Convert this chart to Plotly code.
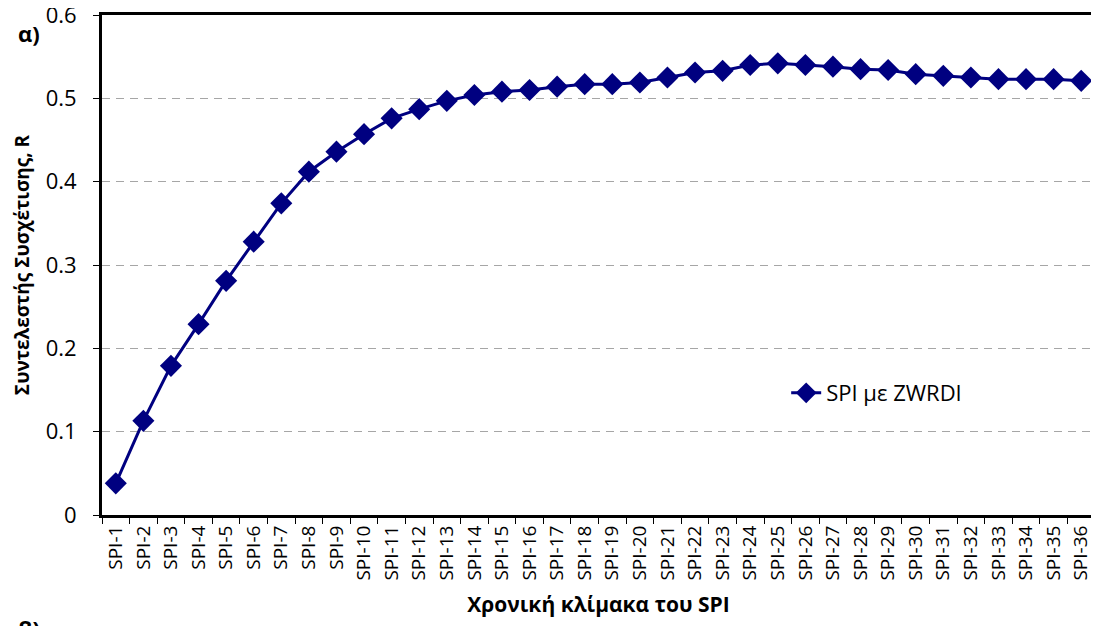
import plotly.graph_objects as go

categories = [f"SPI-{i}" for i in range(1, 37)]
r_values = [0.038, 0.113, 0.179, 0.229, 0.281, 0.328, 0.374, 0.412, 0.436, 0.457,
            0.476, 0.487, 0.497, 0.504, 0.508, 0.510, 0.514, 0.517, 0.517, 0.519,
            0.525, 0.531, 0.533, 0.540, 0.542, 0.540, 0.538, 0.535, 0.534, 0.529,
            0.527, 0.525, 0.523, 0.523, 0.523, 0.521]
y_ticks = [0, 0.1, 0.2, 0.3, 0.4, 0.5, 0.6]
y_tick_text = ["0", "0.1", "0.2", "0.3", "0.4", "0.5", "0.6"]

FONT = "Open Sans"

fig = go.Figure()
fig.add_trace(go.Scatter(
    x=categories, y=r_values, mode="lines+markers", name="SPI με ZWRDI",
    line=dict(color="#000080", width=3),
    marker=dict(symbol="diamond", size=17, color="#000080"),
))

fig.update_layout(
    width=1099, height=626,
    margin=dict(l=94, r=12, t=7, b=119, autoexpand=False),
    paper_bgcolor="white", plot_bgcolor="white",
    font=dict(family=FONT, color="black"),
    showlegend=True,
    legend=dict(x=0.689, y=0.244, xanchor="left", yanchor="middle",
                bgcolor="rgba(255,255,255,0)", font=dict(size=22, family=FONT)),
    xaxis=dict(
        type="category", range=[-0.5, 35.5], automargin=False,
        showline=True, linecolor="black", linewidth=3, mirror=True,
        ticks="outside", tickson="boundaries", ticklen=6, tickcolor="black", tickwidth=1,
        tickangle=-90, tickfont=dict(size=19, family=FONT),
        showgrid=False,
        title=dict(text="<b>Χρονική κλίμακα του SPI</b>", font=dict(size=21, family=FONT), standoff=18),
    ),
    yaxis=dict(
        range=[0, 0.6], tickvals=y_ticks, ticktext=y_tick_text, automargin=False,
        showline=True, linecolor="black", linewidth=3, mirror=True,
        ticks="outside", ticklen=6, tickcolor="black", tickwidth=1,
        tickfont=dict(size=22, family=FONT), ticklabelstandoff=12,
        ticklabeloverflow="allow",
        showgrid=True, gridcolor="#a6a6a6", griddash="8px,6px", gridwidth=1,
        zeroline=False,
        title=dict(text="<b>Συντελεστής Συσχέτισης, R</b>", font=dict(size=19, family=FONT), standoff=12),
    ),
    annotations=[
        dict(text="<b>α)</b>", xref="paper", yref="paper", x=-0.0866, y=0.964,
             xanchor="left", yanchor="middle", showarrow=False, font=dict(size=22, family=FONT)),
        dict(text="<b>β)</b>", xref="paper", yref="paper", x=-0.0866, y=-0.226,
             xanchor="left", yanchor="middle", showarrow=False, font=dict(size=22, family=FONT)),
    ],
)

fig.write_html("out.html")
